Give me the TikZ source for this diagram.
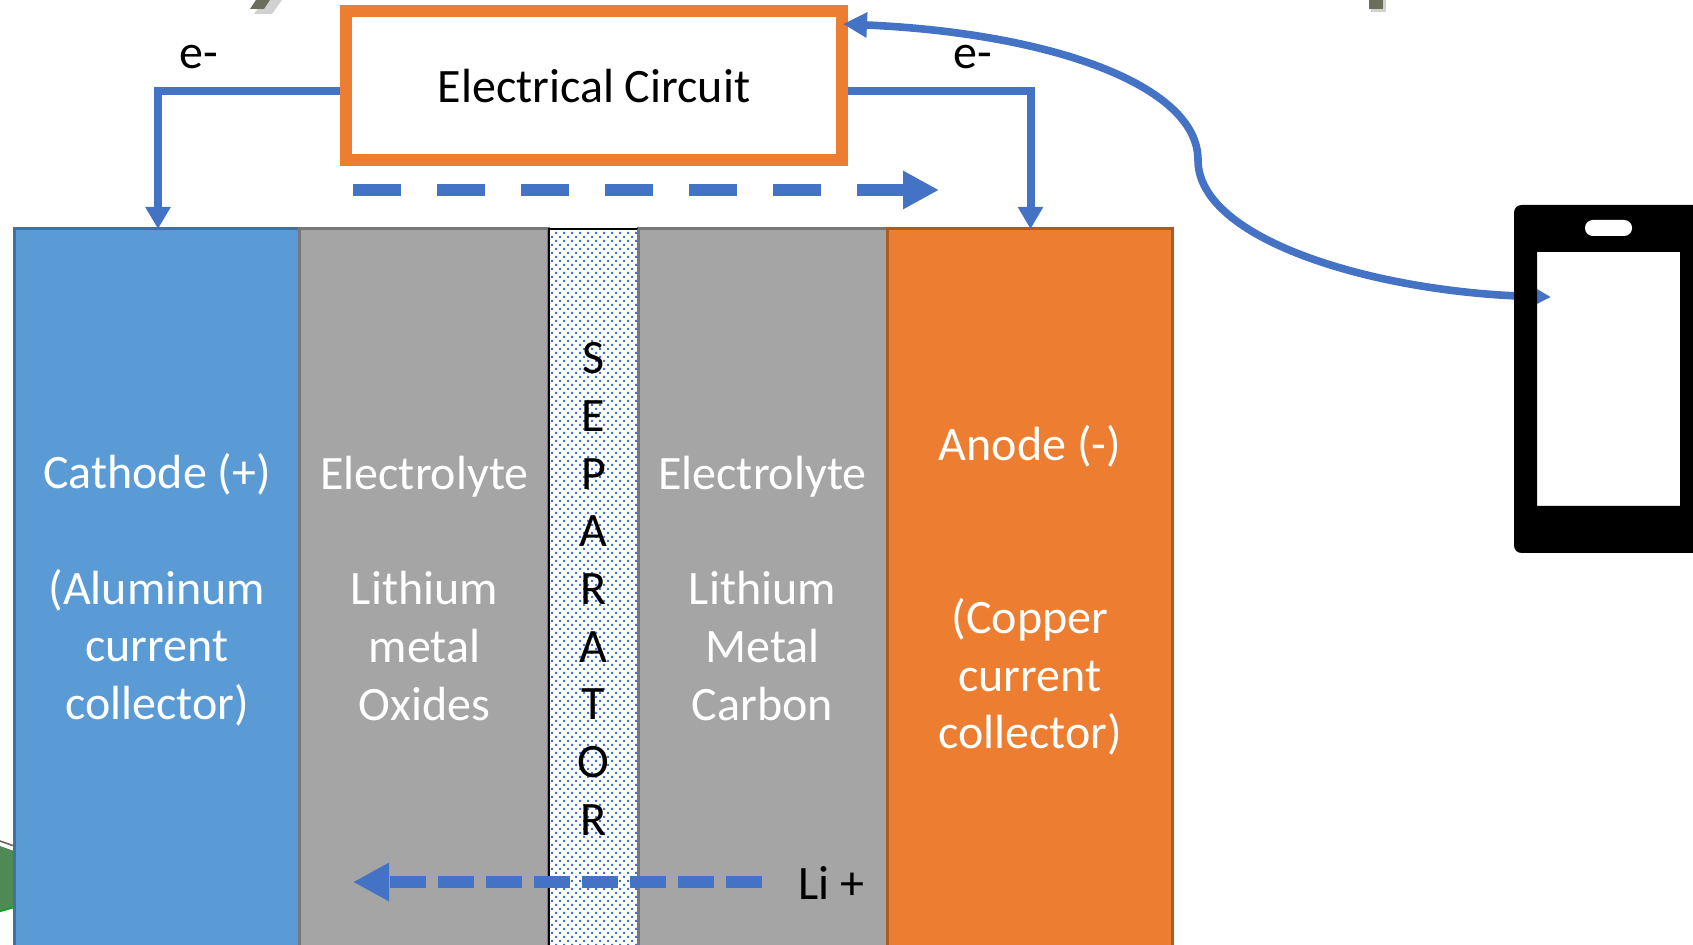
\documentclass[tikz,border=0pt]{standalone}
\usepackage{fontspec}
\setmainfont{Carlito}
\usetikzlibrary{arrows.meta}
\definecolor{lineblue}{HTML}{4472C4}
\definecolor{cathodeblue}{HTML}{5B9BD5}
\definecolor{cathodeedge}{HTML}{41719C}
\definecolor{elecgrey}{HTML}{A5A5A5}
\definecolor{elecedge}{HTML}{787878}
\definecolor{anodeorange}{HTML}{ED7D31}
\definecolor{anodeedge}{HTML}{AE5A21}
\definecolor{olive}{HTML}{6B6E5A}
\definecolor{leaf}{HTML}{4F8A55}
\definecolor{leafedge}{HTML}{1F9A2A}
\tikzset{
  x=0.5pt,y=-0.5pt,
  layer/.style={draw,line width=1.5pt,minimum height=386pt,anchor=north west,inner sep=0pt,outer sep=0pt},
  lab/.style={align=center,font=\fontsize{24}{28.85}\selectfont,inner sep=0pt},
  whitelab/.style={lab,text=white},
  wire/.style={draw=lineblue,line width=4pt,-{Triangle[length=11pt,width=12pt]}},
  flow/.style={draw=lineblue,line width=6pt,-{Triangle[length=18pt,width=18pt]}},
  feed/.style={draw=lineblue,line width=3.8pt,{Triangle[length=12pt,width=12pt]}-{Triangle[length=12pt,width=12pt]}},
}
\begin{document}
\begin{tikzpicture}
\useasboundingbox (0,0) rectangle (1693,945);
\clip (0,0) rectangle (1693,945);
% background fragments
\fill[leaf] (0,846) -- (14,851) -- (14,906) -- (0,910) -- cycle;
\draw[leafedge,line width=1.2pt] (0,911) -- (14,907);
\draw[black!60,line width=0.8pt] (0,841) -- (14,846);
\fill[black!18] (254,14) -- (272,14) -- (282,0) -- (264,0) -- cycle;
\fill[olive] (250,9) -- (264,9) -- (270,0) -- (256,0) -- cycle;
\fill[black!18] (1371,0) rectangle (1386,12);
\fill[olive] (1369,0) rectangle (1383,9);
% layers
\node[layer,fill=cathodeblue,draw=cathodeedge,minimum width=142.5pt] (cathode) at (14,229) {};
\node[layer,fill=elecgrey,draw=elecedge,minimum width=124.5pt] (elecL) at (299.5,229) {};
\node[layer,fill=elecgrey,draw=elecedge,minimum width=124.5pt] (elecR) at (638,229) {};
\node[layer,fill=white,draw=none,minimum width=44.5pt] (sep) at (549,229) {};
\fill[lineblue] foreach \r in {0,...,180} {
  foreach \c in {0,...,10} {
    ({551+\c*8+2*(1+(-1)^\r)},{232+\r*4}) rectangle ++(2,2)
  }
};
\draw[black,line width=0.8pt] (sep.south west) -- (sep.north west) -- (sep.north east);
\draw[elecedge,line width=1pt] (sep.north east) -- (sep.south east);
\node[layer,fill=anodeorange,draw=anodeedge,minimum width=142.5pt] (anode) at (887,229) {};
% texts
\node[whitelab] (cathodetext) at (157,590) {Cathode (+)\\[28.85pt](Aluminum\\current\\collector)};
\node[whitelab] (elecLtext) at (424.5,588.5) {Electrolyte\\[28.85pt]Lithium\\metal\\Oxides};
\node[whitelab] (elecRtext) at (762.5,588.5) {Electrolyte\\[28.85pt]Lithium\\Metal\\Carbon};
\node[whitelab] (anodetext) at (1030,590.5) {Anode (-)\\[57.7pt](Copper\\current\\collector)};
\node[lab] (septext) at (593.5,589) {S\\E\\P\\A\\R\\A\\T\\O\\R};
% circuit
\node[draw=anodeorange,line width=6pt,fill=white,minimum width=248pt,minimum height=74.75pt,inner sep=0pt,outer sep=3pt,lab] (circuit) at (594,85.75) {Electrical Circuit};
\node[lab] (eL) at (199,57) {e-};
\node[lab] (eR) at (973,57) {e-};
\node[lab] (li) at (831,883) {Li +};
% connectors
\path[wire] ([yshift=-2.6pt]circuit.west) -| ([xshift=0.75pt]cathode.north);
\path[wire] ([yshift=-2.6pt]circuit.east) -| ([xshift=0.5pt]anode.north);
\coordinate (flowAstart) at (353,190);
\coordinate (flowAend) at (939,190);
\coordinate (flowBstart) at (762,882);
\coordinate (flowBend) at (353,882);
\path[flow,dash pattern=on 24pt off 18pt] (flowAstart) -- (flowAend);
\path[flow,dash pattern=on 18pt off 6pt] (flowBstart) -- (flowBend);
% phone
\fill[white] (1537,252) rectangle (1680,506);
\coordinate (phonein) at (1551,297);
\coordinate (circuitin) at (843,24);
\coordinate (bend) at (1198,160);
\path[feed] (circuitin) .. controls (1050,33) and (1198,85) .. (bend) .. controls (1198,240) and (1375,292) .. (phonein);
\fill[black,even odd rule]
  (1522,205) -- (1720,205) -- (1720,553) -- (1522,553)
  .. controls (1517,553) and (1514,550) .. (1514,545) -- (1514,213)
  .. controls (1514,208) and (1517,205) .. (1522,205) -- cycle
  (1537,252) rectangle (1680,506);
\fill[white,rounded corners=3.9pt] (1585,220) rectangle (1632,236);
\end{tikzpicture}
\end{document}
